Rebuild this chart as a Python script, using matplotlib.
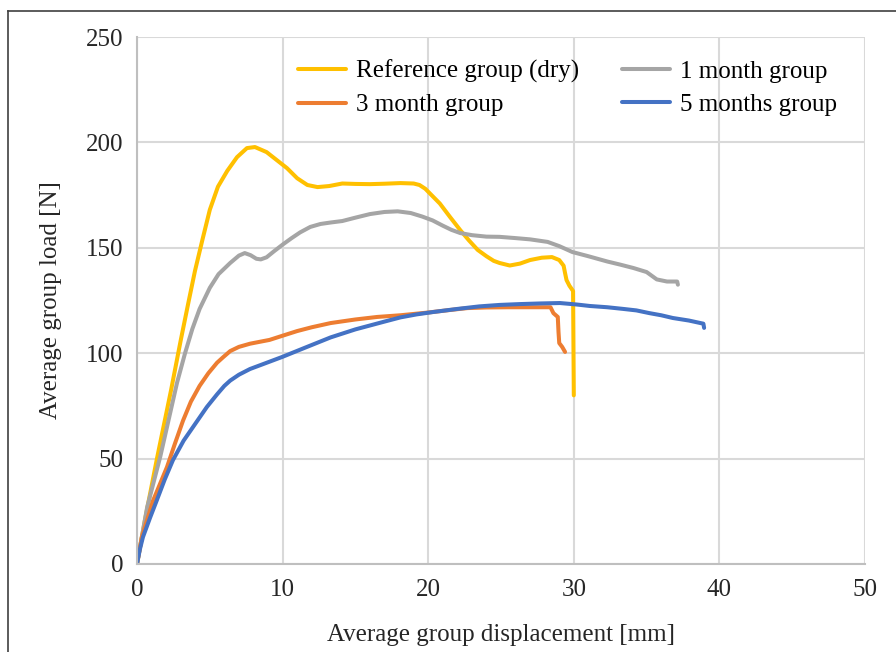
import matplotlib.pyplot as plt
from matplotlib.lines import Line2D

# load-displacement curves
ref_x = [0, 0.55, 1.37, 2.34, 3.0, 3.5, 3.98, 4.5, 5.0, 5.56, 6.2, 6.87, 7.55, 8.1, 8.9, 9.6, 10.3,
         11.0, 11.7, 12.4, 13.2, 14.1, 15.0, 16.0, 17.0, 18.1, 19.0, 19.4, 19.8, 20.3, 20.8, 21.5,
         22.2, 22.8, 23.4, 24.0, 24.5, 24.9, 25.6, 26.3, 27.0, 27.8, 28.5, 29.0, 29.3, 29.4, 29.5,
         29.7, 29.95, 30.0]
ref_y = [0, 21, 50, 82.5, 106, 123, 139, 154, 168, 179, 186.5, 193, 197.3, 197.8, 195.4, 191.6, 187.8,
         183, 179.8, 178.8, 179.3, 180.5, 180.3, 180.2, 180.4, 180.7, 180.5, 179.8, 178, 174.5, 171, 164.6,
         158.4, 153.5, 149, 146, 143.8, 142.8, 141.6, 142.5, 144.2, 145.3, 145.6, 144.2, 141.5, 138, 134.7,
         132, 129.5, 80]

m1_x = [0, 0.7, 1.6, 2.75, 3.3, 3.8, 4.3, 5.0, 5.6, 6.4, 7.0, 7.4, 7.8, 8.2, 8.5, 8.9, 9.4, 10.0, 10.6,
        11.2, 11.9, 12.6, 13.3, 14.1, 15.0, 16.0, 17.0, 17.9, 18.8, 19.6, 20.3, 21.0, 21.6, 22.2, 23.0,
        24.0, 24.9, 26.0, 27.0, 28.2, 29.0, 29.9, 31.0, 32.3, 33.2, 34.1, 35.0, 35.7, 36.4, 37.1, 37.15]
m1_y = [0, 27, 51, 86, 100, 111.5, 121, 131, 137.5, 142.8, 146.3, 147.5, 146.5, 144.8, 144.5, 145.5, 148.3, 151.5, 154.5,
        157.3, 159.9, 161.3, 162, 162.7, 164.3, 166, 167, 167.3, 166.5, 164.8, 163, 160.5, 158.5, 157, 156,
        155.3, 155.2, 154.6, 154, 152.8, 150.8, 148, 146, 143.5, 142, 140.4, 138.5, 135, 134, 134, 132.5]

m3_x = [0, 0.34, 1.1, 2.06, 2.6, 3.16, 3.7, 4.3, 4.9, 5.5, 5.9, 6.4, 7.0, 7.76, 8.5, 9.1, 10.0, 11.0,
        12.0, 13.3, 15.0, 16.5, 18.1, 20.0, 21.5, 22.7, 24.0, 25.5, 27.0, 28.4, 28.6, 28.9, 28.95, 29.0,
        29.2, 29.4]
m3_y = [0, 13, 30, 46, 57, 68, 77, 84.5, 90.5, 95.5, 98, 101, 103, 104.5, 105.5, 106.3, 108.3, 110.5,
        112.3, 114.3, 116, 117.2, 118, 119.3, 120.5, 121.4, 121.7, 121.8, 121.8, 121.8, 119, 117.2, 110, 104.8,
        103, 100.6]

m5_x = [0, 0.2, 0.41, 0.9, 1.37, 1.9, 2.47, 3.2, 4.1, 4.8, 5.5, 6.0, 6.4, 7.0, 7.76, 8.65, 10.0, 11.5,
        13.3, 15.0, 17.0, 18.1, 19.2, 20.3, 22.0, 23.5, 24.9, 26.3, 27.7, 29.05, 30.2, 31.1, 32.3, 33.4,
        34.3, 35.2, 36.0, 36.8, 37.9, 38.9, 38.95]
m5_y = [0, 7, 12.8, 22, 30.4, 40, 49.3, 58.5, 67.5, 74.5, 80.5, 84.5, 87, 89.8, 92.5, 94.8, 98.3, 102.5,
        107.5, 111.3, 115, 117, 118.4, 119.5, 121, 122.2, 122.9, 123.3, 123.6, 123.8, 123.1, 122.4, 121.8, 121,
        120.3, 119, 118, 116.7, 115.5, 114, 112]

series = [
    (ref_x, ref_y, "#FFC000", "Reference group (dry)"),
    (m1_x, m1_y, "#A5A5A5", "1 month group"),
    (m3_x, m3_y, "#ED7D31", "3 month group"),
    (m5_x, m5_y, "#4472C4", "5 months group"),
]

plt.rcParams['font.family'] = ['Liberation Serif', 'DejaVu Serif']
FS = 18

fig = plt.figure(figsize=(8.96, 6.52), dpi=100)
ax = fig.add_axes([137 / 896, 88 / 652, 728 / 896, 527 / 652])

for xs, ys, col, lab in series:
    ax.plot(xs, ys, color=col, lw=2.9, label=lab, solid_capstyle='round', solid_joinstyle='round')

ax.set_xlim(0, 50)
ax.set_ylim(0, 250)
ax.set_xticks(range(0, 51, 10))
ax.set_yticks(range(0, 251, 50))
ax.grid(True, color='#d9d9d9', lw=1.5)
ax.set_axisbelow(True)
for s in ['top', 'right']:
    ax.spines[s].set_visible(False)
for s in ['left', 'bottom']:
    ax.spines[s].set_color('#bfbfbf')
    ax.spines[s].set_linewidth(1.5)
ax.tick_params(length=0, labelsize=FS, colors='#262626', pad=10)
ax.tick_params(axis='x', pad=11)

ax.set_xlabel("Average group displacement [mm]", fontsize=FS, color='#262626', labelpad=16)
ax.set_ylabel("Average group load [N]", fontsize=FS, color='#262626', labelpad=17)

# legend order: row 1 ref / 1 month, row 2 3 month / 5 months
handles, labels = ax.get_legend_handles_labels()
order = [0, 2, 1, 3]
fig.legend([handles[i] for i in order], [labels[i] for i in order], ncol=2,
           loc='upper left', bbox_to_anchor=(298 / 896, 1 - 60 / 652), frameon=False, fontsize=FS,
           handlelength=1.9, columnspacing=1.75, handletextpad=0.4, labelspacing=0.42,
           borderpad=0, borderaxespad=0)

# outer frame of the figure
fig.add_artist(Line2D([8 / 896, 8 / 896], [0, 1 - 11 / 652], color='#404040', lw=1.2,
                      transform=fig.transFigure))
fig.add_artist(Line2D([8 / 896, 1], [1 - 11 / 652, 1 - 11 / 652], color='#404040', lw=1.2,
                      transform=fig.transFigure))

fig.savefig("out.png", dpi=100)
